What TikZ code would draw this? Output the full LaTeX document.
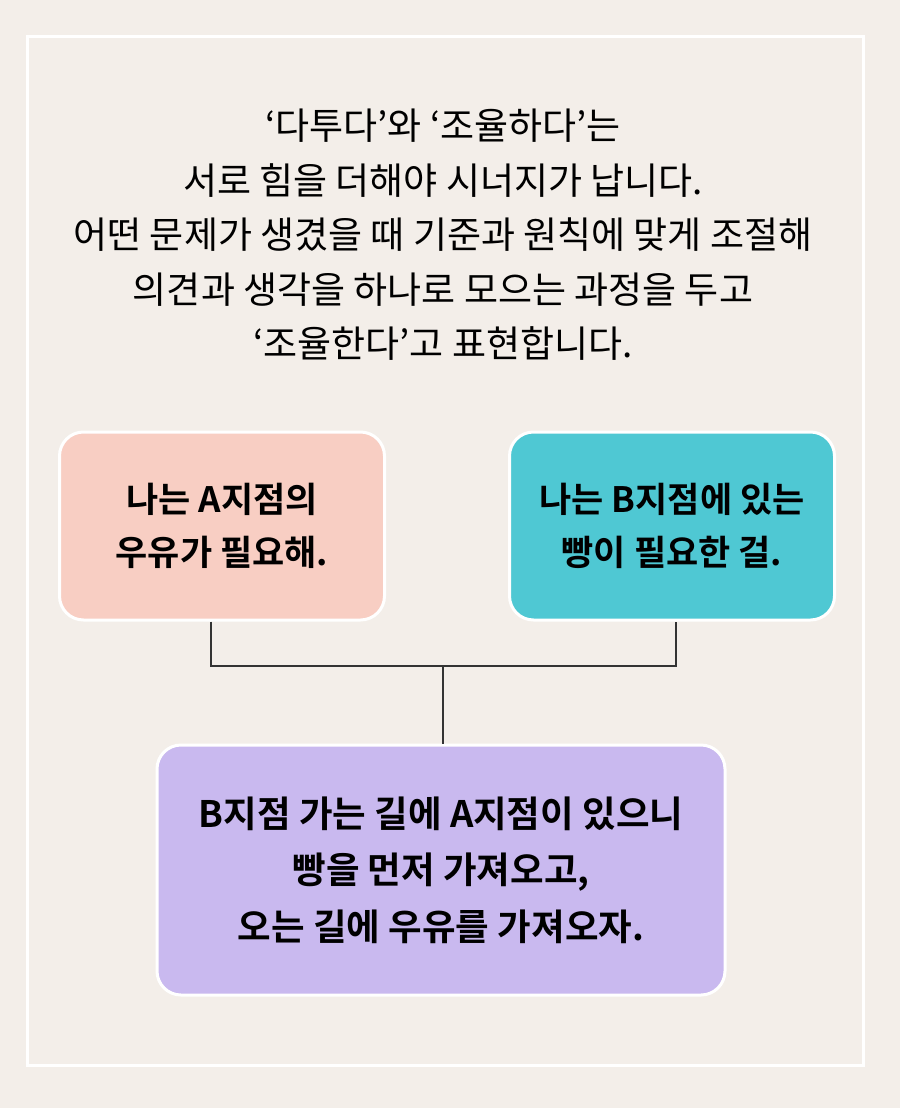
\documentclass[tikz,border=0pt]{standalone}
\usepackage{fontspec}
\newfontfamily\kr{Noto Sans CJK KR}
\newfontfamily\krb{Noto Sans CJK KR Bold}
\definecolor{bg}{HTML}{F3EEE9}
\definecolor{pinkbox}{HTML}{F8CEC3}
\definecolor{tealbox}{HTML}{4FC8D3}
\definecolor{purplebox}{HTML}{C9B9EF}
\definecolor{linec}{HTML}{333333}
\tikzset{
  card/.style={draw=white, line width=3pt, rounded corners=24pt, align=center,
    font=\krb\fontsize{35}{53}\selectfont, text=black, inner sep=0pt},
  conn/.style={draw=linec, line width=2pt},
  title/.style={align=center, font=\kr\fontsize{37}{54.5}\selectfont, text=black}
}
\begin{document}
\begin{tikzpicture}[x=1pt,y=-1pt]
\fill[bg] (0,0) rectangle (900,1108);
\useasboundingbox (0,0) rectangle (900,1108);
\draw[white, line width=3pt] (27,37) rectangle (863,1065);
\node[title] (head) at (443,235) {‘다투다’와 ‘조율하다’는\\서로 힘을 더해야 시너지가 납니다.\\어떤 문제가 생겼을 때 기준과 원칙에 맞게 조절해\\의견과 생각을 하나로 모으는 과정을 두고\\‘조율한다’고 표현합니다.};
\node[card, fill=pinkbox, minimum width=325pt, minimum height=188pt] (pink) at (222,526) {나는 A지점의\\우유가 필요해.};
\node[card, fill=tealbox, minimum width=325pt, minimum height=188pt] (teal) at (672,526) {나는 B지점에 있는\\빵이 필요한 걸.};
\node[card, fill=purplebox, minimum width=568pt, minimum height=250pt, font=\krb\fontsize{36.5}{56.5}\selectfont] (purple) at (441,870) {B지점 가는 길에 A지점이 있으니\\빵을 먼저 가져오고,\\오는 길에 우유를 가져오자.};
\coordinate (join) at (443,666);
\draw[conn] ([xshift=-11pt]pink.south) |- (join) -| ([xshift=4pt]teal.south);
\draw[conn] (join) -- (join |- purple.north);
\end{tikzpicture}
\end{document}
